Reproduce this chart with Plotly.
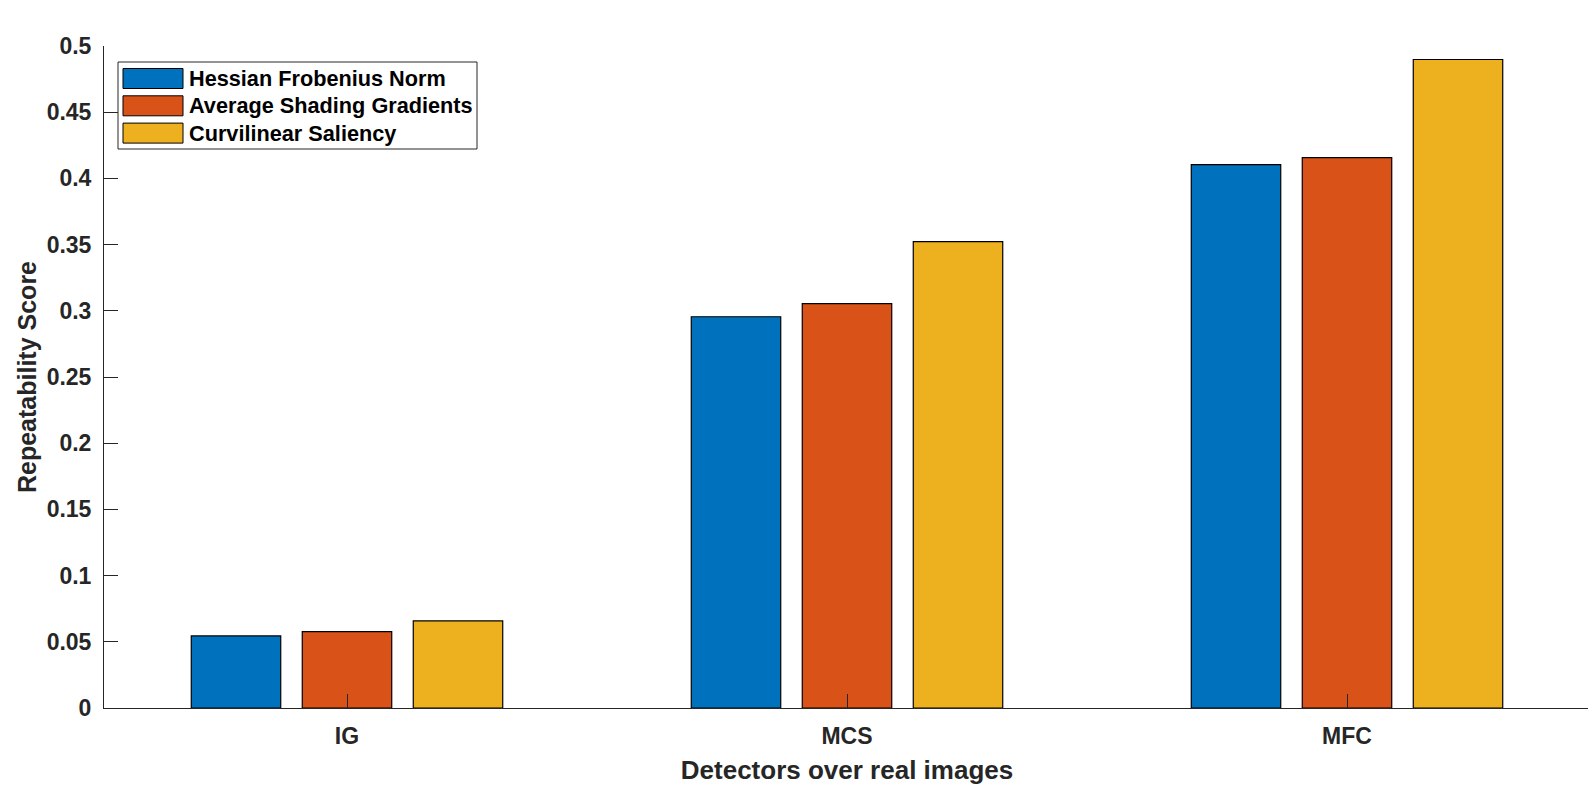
import plotly.graph_objects as go

detectors = ['IG', 'MCS', 'MFC']
series_names = ['Hessian Frobenius Norm', 'Average Shading Gradients', 'Curvilinear Saliency']
hessian_frob = [0.0544, 0.2955, 0.4104]
avg_shading = [0.0577, 0.3054, 0.4157]
curv_saliency = [0.0658, 0.3522, 0.4898]
y_ticks = [0, 0.05, 0.1, 0.15, 0.2, 0.25, 0.3, 0.35, 0.4, 0.45, 0.5]

colors = ['#0072BD', '#D95319', '#EDB120']
axis_col = '#262626'
fnt = 'Liberation Sans'

# page body has an 8px margin, so the figure is a bit smaller and shifted
W, H = 1588, 792
L, R, T, B = 96, 6, 38, 92

# pixel (page) -> paper helpers for the hand-made legend
def px(x):
  return (x - 8 - L) / (W - L - R)
def py(y):
  return 1 - (y - 8 - T) / (H - T - B)

fig = go.Figure()
for name, vals, col in zip(series_names, [hessian_frob, avg_shading, curv_saliency], colors):
  fig.add_trace(go.Bar(x = detectors, y = vals, name = name, marker = dict(color = col, line = dict(color = 'black', width = 1.2)),
                showlegend = False))

# legend box like matlab: big patches
fig.add_shape(type = 'rect', xref = 'paper', yref = 'paper', x0 = px(118), x1 = px(477), y0 = py(149), y1 = py(62),
              line = dict(color = axis_col, width = 1), fillcolor = 'white', layer = 'above')
for i, (name, col) in enumerate(zip(series_names, colors)):
  yc = 78.5 + i * 27.3
  fig.add_shape(type = 'rect', xref = 'paper', yref = 'paper', x0 = px(123), x1 = px(183), y0 = py(yc + 10), y1 = py(yc - 10),
                line = dict(color = 'black', width = 1), fillcolor = col, layer = 'above')
  fig.add_annotation(x = px(187), y = py(yc), xref = 'paper', yref = 'paper', text = name, showarrow = False,
                     xanchor = 'left', yanchor = 'middle', font = dict(family = fnt, size = 21.7, color = 'black', weight = 'bold'))

fig.update_xaxes(title_text = 'Detectors over real images', title_font = dict(family = fnt, size = 26, color = axis_col, weight = 'bold'),
           title_standoff = 13,
           showline = True, linecolor = axis_col, linewidth = 1, ticks = 'inside', ticklen = 14, tickwidth = 1, tickcolor = axis_col,
           tickfont = dict(family = fnt, size = 23, color = axis_col, weight = 'bold'), ticklabelstandoff = 7,
           range = [-0.486, 2.486], showgrid = False, zeroline = False)
fig.update_yaxes(title_text = 'Repeatability Score', title_font = dict(family = fnt, size = 25, color = axis_col, weight = 'bold'),
           title_standoff = 2,
           showline = True, linecolor = axis_col, linewidth = 1, ticks = 'inside', ticklen = 14, tickwidth = 1, tickcolor = axis_col,
           tickfont = dict(family = fnt, size = 23, color = axis_col, weight = 'bold'),
           tickmode = 'array', tickvals = y_ticks, ticktext = [('%g' % v) for v in y_ticks], ticklabelstandoff = 7,
           range = [0, 0.5], showgrid = False, zeroline = False)

fig.update_layout(barmode = 'group', bargap = 0.334, bargroupgap = 0.194, plot_bgcolor = 'white', paper_bgcolor = 'white',
           margin = dict(l = L, r = R, t = T, b = B), width = W, height = H)

fig.write_html("out.html")
